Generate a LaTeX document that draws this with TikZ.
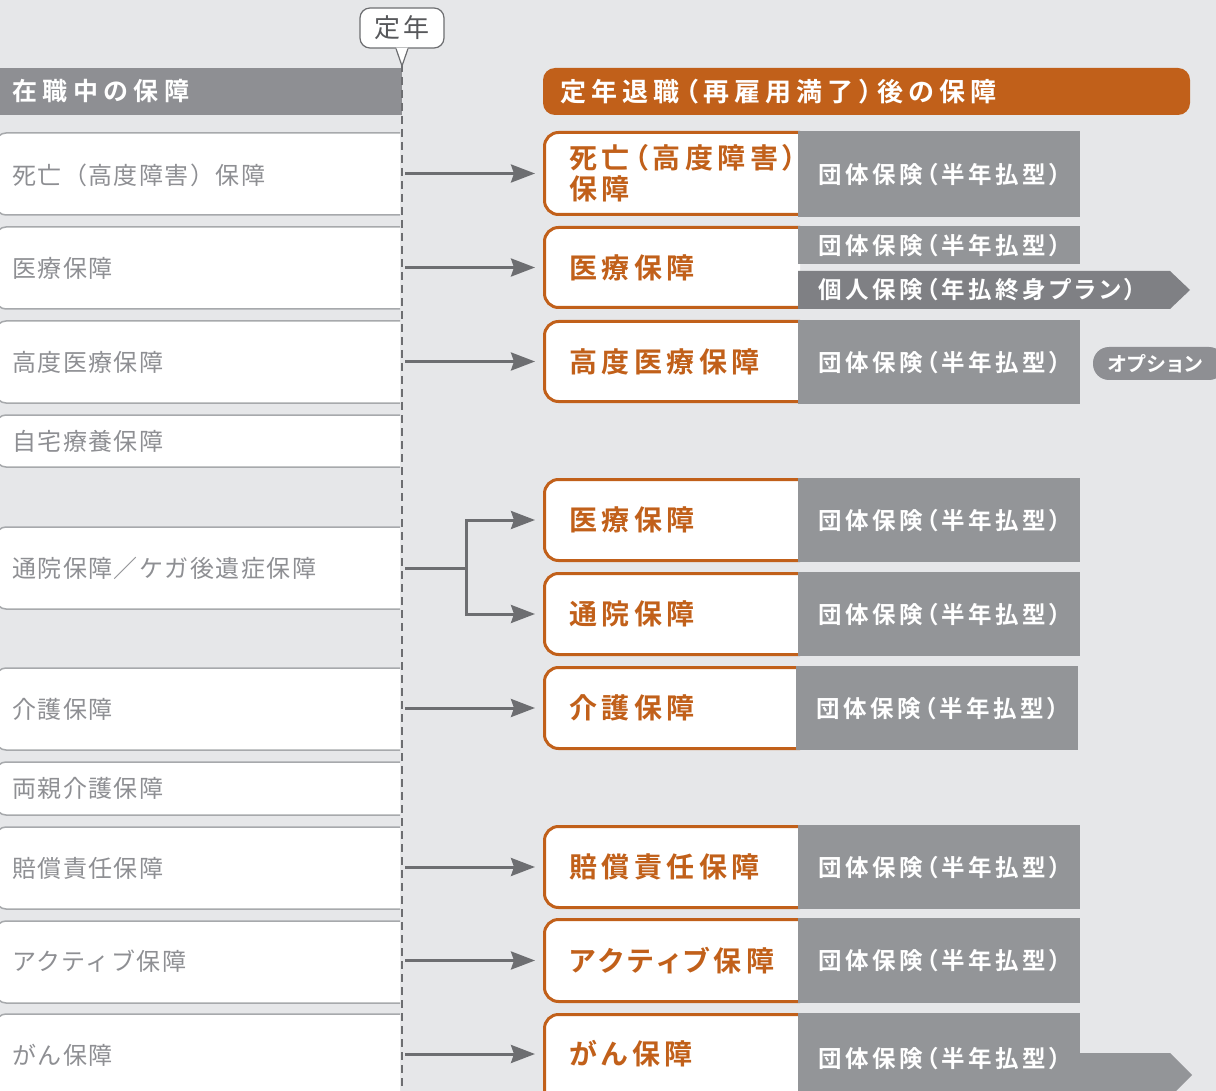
\documentclass[tikz,border=0pt]{standalone}
\usepackage{fontspec}
\setmainfont{Noto Sans CJK JP}
\newfontfamily\jpfont{Noto Sans CJK JP}[LetterSpace=6]
\newfontfamily\jpbold{Noto Sans CJK JP Bold}[LetterSpace=16,RawFeature=+palt]
\usetikzlibrary{arrows.meta}
\definecolor{bggray}{HTML}{E6E7E9}
\definecolor{boxgray}{HTML}{939598}
\definecolor{plangray}{HTML}{7F8084}
\definecolor{linkgray}{HTML}{6D6E71}
\definecolor{rimgray}{HTML}{A7A9AC}
\definecolor{txtgray}{HTML}{8E8F93}
\definecolor{rust}{HTML}{C1601A}

\begin{document}
\begin{tikzpicture}[
        x=1pt, y=-1pt,
        >={Stealth[length=24pt,width=18pt,inset=3pt]},
        lbox/.style={draw=rimgray, line width=1.5pt, fill=white, rounded corners=10pt},
        ltext/.style={anchor=west, inner sep=0pt, text=txtgray, font=\jpfont\fontsize{24}{28}\selectfont},
        rframe/.style={draw=rust, line width=3pt, fill=white, rounded corners=14pt},
        rbox/.style={anchor=west, minimum height=80pt, text width=205pt, inner xsep=26pt, inner ysep=0pt,
            align=left, text=rust, font=\jpbold\fontsize{28}{31}\selectfont},
        gbox/.style={fill=boxgray, anchor=north west, minimum width=282pt, minimum height=86pt, text width=242pt,
            inner xsep=20pt, inner ysep=0pt, align=left, text=white,
            font=\jpbold\addfontfeatures{LetterSpace=15}\fontsize{23.5}{26}\selectfont},
        conn/.style={draw=linkgray, line width=3pt, shorten >=8pt}
        ]
            % Background
            \fill[bggray] (0, 0) rectangle (1216, 1091);
            \useasboundingbox (0, 0) rectangle (1216, 1091);

            % Headers
            \fill[txtgray] (-5, 68) rectangle (402, 115);
            \node[anchor=west, inner sep=0pt, text=white, font=\jpbold\addfontfeatures{LetterSpace=22}\fontsize{25}{28}\selectfont]
                (lhead) at (12, 91.5) {在職中の保障};
            \fill[rust, rounded corners=12pt] (543, 68) rectangle (1190, 115);
            \node[anchor=west, inner sep=0pt, text=white, font=\jpbold\addfontfeatures{LetterSpace=20}\fontsize{26}{28}\selectfont]
                (rhead) at (560, 91.5) {定年退職（再雇用満了）後の保障};

            % Left column
            \draw[lbox] (400, 133) -- (-4, 133) -- (-4, 215) -- (400, 215);
            \node[ltext] (l1) at (12, 175) {死亡（高度障害）保障};
            \draw[lbox] (400, 227) -- (-4, 227) -- (-4, 309) -- (400, 309);
            \node[ltext] (l2) at (12, 268) {医療保障};
            \draw[lbox] (400, 321) -- (-4, 321) -- (-4, 403) -- (400, 403);
            \node[ltext] (l3) at (12, 362) {高度医療保障};
            \draw[lbox] (400, 415) -- (-4, 415) -- (-4, 467) -- (400, 467);
            \node[ltext] (l4) at (12, 441) {自宅療養保障};
            \draw[lbox] (400, 527) -- (-4, 527) -- (-4, 609) -- (400, 609);
            \node[ltext] (l5) at (12, 568) {通院保障／ケガ後遺症保障};
            \draw[lbox] (400, 668) -- (-4, 668) -- (-4, 750) -- (400, 750);
            \node[ltext] (l6) at (12, 709) {介護保障};
            \draw[lbox] (400, 762) -- (-4, 762) -- (-4, 815) -- (400, 815);
            \node[ltext] (l7) at (12, 788) {両親介護保障};
            \draw[lbox] (400, 827) -- (-4, 827) -- (-4, 909) -- (400, 909);
            \node[ltext] (l8) at (12, 868) {賠償責任保障};
            \draw[lbox] (400, 921) -- (-4, 921) -- (-4, 1003) -- (400, 1003);
            \node[ltext] (l9) at (12, 961) {アクティブ保障};
            \draw[lbox] (400, 1014) -- (-4, 1014) -- (-4, 1110) -- (400, 1110);
            \node[ltext] (l10) at (12, 1055) {がん保障};

            % Retirement marker
            \draw[linkgray, line width=2.5pt, dash pattern=on 8pt off 5pt] (402, 64) -- (402, 1091);
            \node[draw=linkgray, line width=1.2pt, fill=white, rounded corners=10pt,
                minimum width=84pt, minimum height=40pt, inner sep=0pt, text=linkgray!80!black,
                font=\jpfont\addfontfeatures{LetterSpace=10}\fontsize{26}{28}\selectfont] (teinen) at (402, 28) {定年};
            \fill[white] ([xshift=-6pt, yshift=1pt]teinen.south) -- (402, 66) -- ([xshift=6pt, yshift=1pt]teinen.south) -- cycle;
            \draw[linkgray, line width=1.2pt] ([xshift=-6pt]teinen.south) -- (402, 66) -- ([xshift=6pt]teinen.south);

            % Right column frames
            \draw[rframe] (800, 132.5) -- (544.5, 132.5) -- (544.5, 214.5) -- (800, 214.5);
            \draw[rframe] (800, 227.5) -- (544.5, 227.5) -- (544.5, 307.5) -- (800, 307.5);
            \draw[rframe] (800, 321.5) -- (544.5, 321.5) -- (544.5, 401.5) -- (800, 401.5);
            \draw[rframe] (800, 479.5) -- (544.5, 479.5) -- (544.5, 560.5) -- (800, 560.5);
            \draw[rframe] (800, 573.5) -- (544.5, 573.5) -- (544.5, 654.5) -- (800, 654.5);
            \draw[rframe] (800, 667.5) -- (544.5, 667.5) -- (544.5, 748.5) -- (800, 748.5);
            \draw[rframe] (800, 826.5) -- (544.5, 826.5) -- (544.5, 907.5) -- (800, 907.5);
            \draw[rframe] (800, 919.5) -- (544.5, 919.5) -- (544.5, 1001.5) -- (800, 1001.5);
            \draw[rframe] (800, 1014.5) -- (544.5, 1014.5) -- (544.5, 1110) -- (800, 1110);

            % Right column plans
            \node[gbox] (g1) at (798, 131) {団体保険（半年払型）};
            \node[gbox, minimum height=38pt] (g2) at (798, 226) {団体保険（半年払型）};
            \fill[plangray] (798, 271) -- (1170, 271) -- (1190, 290) -- (1170, 309) -- (798, 309) -- cycle;
            \node[anchor=west, inner sep=0pt, text=white, font=\jpbold\addfontfeatures{LetterSpace=15}\fontsize{23.5}{26}\selectfont]
                (plan) at (818, 290) {個人保険（年払終身プラン）};
            \node[gbox, minimum height=84pt] (g3) at (798, 320) {団体保険（半年払型）};
            \node[fill=txtgray, rounded corners=16pt, minimum width=132pt, minimum height=33pt, inner sep=0pt,
                text=white, font=\jpbold\addfontfeatures{LetterSpace=6}\fontsize{20}{22}\selectfont] (option) at (1159, 363.5) {\hspace*{-8pt}オプション};
            \node[gbox, minimum height=84pt] (g4) at (798, 478) {団体保険（半年払型）};
            \node[gbox, minimum height=84pt] (g5) at (798, 572) {団体保険（半年払型）};
            \node[gbox, minimum height=84pt] (g6) at (796, 666) {団体保険（半年払型）};
            \node[gbox, minimum height=84pt] (g7) at (798, 825) {団体保険（半年払型）};
            \node[gbox, minimum height=85pt] (g8) at (798, 918) {団体保険（半年払型）};
            \fill[boxgray] (1060, 1053) -- (1170, 1053) -- (1192, 1075) -- (1170, 1097) -- (1060, 1097) -- cycle;
            \node[gbox, minimum height=90pt] (g9) at (798, 1013) {団体保険（半年払型）};

            % Right column titles
            \node[rbox] (r1) at (543, 173.5) {死亡（高度障害）\\保障};
            \node[rbox] (r2) at (543, 267.5) {医療保障};
            \node[rbox] (r3) at (543, 361.5) {高度医療保障};
            \node[rbox] (r4) at (543, 520) {医療保障};
            \node[rbox] (r5) at (543, 614) {通院保障};
            \node[rbox] (r6) at (543, 708) {介護保障};
            \node[rbox] (r7) at (543, 867) {賠償責任保障};
            \node[rbox] (r8) at (543, 960.5) {アクティブ保障};
            \node[rbox] (r9) at (543, 1054) {がん保障};

            % Links
            \coordinate (gap) at (405, 0);
            \coordinate (fork) at (466, 568);
            \draw[conn, ->] (r1.west -| gap) -- (r1.west);
            \draw[conn, ->] (r2.west -| gap) -- (r2.west);
            \draw[conn, ->] (r3.west -| gap) -- (r3.west);
            \draw[conn, shorten >=0pt] (l5 -| gap) -- (fork);
            \draw[conn, ->] (fork) |- (r4.west);
            \draw[conn, ->] (fork) |- (r5.west);
            \draw[conn, ->] (r6.west -| gap) -- (r6.west);
            \draw[conn, ->] (r7.west -| gap) -- (r7.west);
            \draw[conn, ->] (r8.west -| gap) -- (r8.west);
            \draw[conn, ->] (r9.west -| gap) -- (r9.west);
        \end{tikzpicture}
\end{document}
